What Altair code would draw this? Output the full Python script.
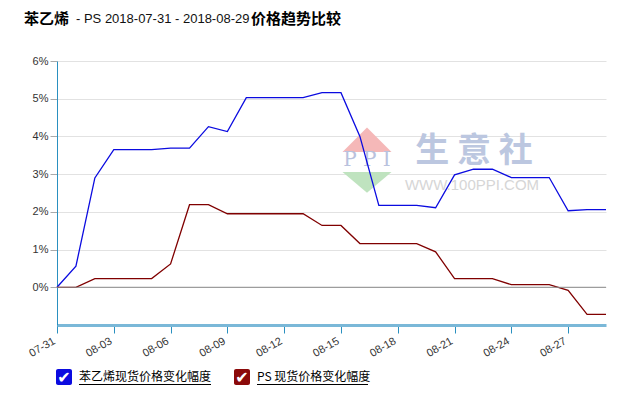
import altair as alt
import pandas as pd

# ---------------- data ----------------
dates = ["07-31", "08-01", "08-02", "08-03", "08-04", "08-05", "08-06", "08-07",
         "08-08", "08-09", "08-10", "08-11", "08-12", "08-13", "08-14", "08-15",
         "08-16", "08-17", "08-18", "08-19", "08-20", "08-21", "08-22", "08-23",
         "08-24", "08-25", "08-26", "08-27", "08-28", "08-29"]
styrene = [0.00, 0.56, 2.90, 3.65, 3.65, 3.65, 3.69, 3.69, 4.26, 4.13,
           5.03, 5.03, 5.03, 5.03, 5.16, 5.16, 4.00, 2.17, 2.17, 2.17,
           2.11, 2.98, 3.13, 3.13, 2.91, 2.91, 2.91, 2.03, 2.06, 2.06]
ps = [0.00, 0.00, 0.23, 0.23, 0.23, 0.23, 0.62, 2.19, 2.19, 1.95,
      1.95, 1.95, 1.95, 1.95, 1.64, 1.64, 1.16, 1.16, 1.16, 1.16,
      0.94, 0.23, 0.23, 0.23, 0.07, 0.07, 0.07, -0.08, -0.72, -0.72]
series_names = ["苯乙烯现货价格变化幅度", "PS 现货价格变化幅度"]
tick_dates = dates[::3]
y_ticks = [0, 1, 2, 3, 4, 5, 6]
title_parts = ["苯乙烯", "- PS 2018-07-31 - 2018-08-29", "价格趋势比较"]

# ---------------- styles ----------------
BLUE = "#0b0be0"
RED = "#800000"
CJK = "Noto Sans CJK SC"
LAT = "Liberation Sans"

rows = []
for name, vals in zip(series_names, [styrene, ps]):
    for d, v in zip(dates, vals):
        rows.append({"date": d, "value": v, "series": name})
df = pd.DataFrame(rows)

one = alt.Data(values=[{}])

x_enc = alt.X(
    "date:O", sort=dates,
    scale=alt.Scale(type="point", padding=0),
    axis=alt.Axis(values=tick_dates, labelAngle=-30, labelAlign="right",
                  labelBaseline="middle", labelPadding=7, labelOffset=-3,
                  title=None,
                  domainColor="#7ab8d8", domainWidth=3, tickColor="#2a90c0",
                  tickSize=8, gridColor="#e2e2e2", labelColor="#333333",
                  labelFont=LAT, labelFontSize=11),
)
y_enc = alt.Y(
    "value:Q",
    scale=alt.Scale(domain=[-1, 6], nice=False, zero=False),
    axis=alt.Axis(values=y_ticks, labelExpr="datum.value + '%'", title=None,
                  domainColor="#2a90c0", domainWidth=1, tickColor="#aaaaaa",
                  tickSize=7, gridColor="#e2e2e2", labelColor="#333333",
                  labelFont=LAT, labelFontSize=11, labelPadding=2),
)

lines = alt.Chart(df).mark_line(strokeWidth=1.3).encode(
    x=x_enc, y=y_enc,
    color=alt.Color("series:N", sort=series_names,
                    scale=alt.Scale(domain=series_names, range=[BLUE, RED]),
                    legend=None),
)

zero = alt.Chart(alt.Data(values=[{"v": 0}])).mark_rule(
    color="#8a8a8a", strokeWidth=1).encode(y=alt.Y("v:Q"))

# ---------------- watermark ----------------
wm_red = alt.Chart(one).mark_point(
    shape="M-1,0L0,-1L1,0Z", filled=True, fill="#f5b8b8", opacity=1, size=2401,
    strokeWidth=0).encode(x=alt.value(310), y=alt.value(91))
wm_green = alt.Chart(one).mark_point(
    shape="M-1,0L1,0L0,0.85Z", filled=True, fill="#bfe3bf", opacity=1, size=2401,
    strokeWidth=0).encode(x=alt.value(310), y=alt.value(111))
wm_ppi = alt.Chart(one).mark_text(
    font="DejaVu Serif", fontSize=20, fill="#b9c2de", align="center",
    baseline="middle").encode(x=alt.value(310), y=alt.value(99),
                              text=alt.value("P P I"))
wm_cn = alt.Chart(one).mark_text(
    font=CJK, fontSize=34, fontWeight="bold", fill="#bcc7e0", align="center",
    baseline="middle").encode(x=alt.value(417), y=alt.value(91),
                              text=alt.value("生 意 社"))
wm_url = alt.Chart(one).mark_text(
    font=LAT, fontSize=15, fill="#d6d6d6", align="center",
    baseline="middle").encode(x=alt.value(415), y=alt.value(124),
                              text=alt.value("WWW.100PPI.COM"))

# ---------------- title ----------------
t1 = alt.Chart(one).mark_text(font=CJK, fontSize=15, fontWeight="bold",
                              align="left", baseline="middle", color="#000").encode(
    x=alt.value(-33), y=alt.value(-42), text=alt.value(title_parts[0]))
t2 = alt.Chart(one).mark_text(font=LAT, fontSize=13, align="left",
                              baseline="middle", color="#111").encode(
    x=alt.value(19), y=alt.value(-42), text=alt.value(title_parts[1]))
t3 = alt.Chart(one).mark_text(font=CJK, fontSize=15, fontWeight="bold",
                              align="left", baseline="middle", color="#000").encode(
    x=alt.value(194), y=alt.value(-42), text=alt.value(title_parts[2]))

# ---------------- legend ----------------
legend_layers = []
for i, (name, col) in enumerate(zip(series_names, [BLUE, "#8b0a0a"])):
    bx = -1 if i == 0 else 177
    tx = bx + 23
    tw = 132 if i == 0 else 111
    legend_layers.append(alt.Chart(one).mark_rect(fill=col, cornerRadius=2).encode(
        x=alt.value(bx), x2=alt.value(bx + 16), y=alt.value(308), y2=alt.value(324)))
    legend_layers.append(alt.Chart(one).mark_text(
        font="DejaVu Sans", fontSize=16, fontWeight="bold", color="white",
        align="center", baseline="middle").encode(
        x=alt.value(bx + 8), y=alt.value(317), text=alt.value("✔")))
    legend_layers.append(alt.Chart(one).mark_text(
        font=CJK, fontSize=12, color="#000", align="left",
        baseline="middle").encode(x=alt.value(tx), y=alt.value(316),
                                  text=alt.value(name)))
    legend_layers.append(alt.Chart(one).mark_rule(color="#000", strokeWidth=1).encode(
        x=alt.value(tx), x2=alt.value(tx + tw), y=alt.value(323.5)))

chart = alt.layer(
    wm_red, wm_green, wm_ppi, wm_cn, wm_url,
    lines, zero, t1, t2, t3, *legend_layers,
).properties(
    width=549, height=264,
    autosize=alt.AutoSizeParams(type="none"),
    padding={"left": 49, "top": 53, "right": 20, "bottom": 66},
    background="white",
).configure_view(stroke=None)

chart.save("out.html", embed_options={"renderer": "svg", "actions": False})
